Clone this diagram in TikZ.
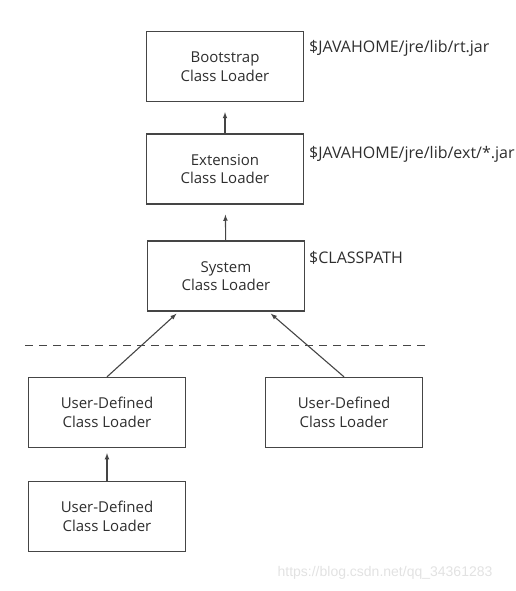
\documentclass[tikz,border=0pt]{standalone}
\usepackage{fontspec}
\setmainfont{Open Sans}
\newfontfamily\wmfont{Liberation Sans}
\usetikzlibrary{arrows}
\definecolor{boxgray}{HTML}{454545}
\definecolor{txtgray}{HTML}{2E2E2E}
\definecolor{wmgray}{HTML}{E2E2E2}
\tikzset{
  loader/.style={draw=boxgray, line width=1.3pt, minimum width=157pt, minimum height=70pt,
    inner sep=0pt, align=center, text=txtgray, font=\fontsize{15}{18.5}\selectfont},
  path/.style={anchor=west, text=txtgray, inner sep=0pt, font=\fontsize{16}{18}\selectfont},
  delegate/.style={-latex, draw=boxgray, line width=1.1pt}
}

\begin{document}
\begin{tikzpicture}[x=1pt,y=-1pt]
        \useasboundingbox (0,0) rectangle (516,591);

          % parent loaders
        \node (boot) at (225,66.5) [loader] {Bootstrap\\Class Loader};
        \node (ext) at (225,169) [loader] {Extension\\Class Loader};
        \node (sys) at (226,276) [loader] {System\\Class Loader};

        \node (rtjar) at (309,48) [path] {\$JAVAHOME/jre/lib/rt.jar};
        \node (extjar) at (309,154) [path] {\$JAVAHOME/jre/lib/ext/*.jar};
        \node (cp) at (309,258) [path] {\$CLASSPATH};

          % user side
        \node (udl) at (107,412.5) [loader] {User-Defined\\Class Loader};
        \node (udr) at (344,412.5) [loader] {User-Defined\\Class Loader};
        \node (udb) at (107,516.5) [loader] {User-Defined\\Class Loader};

        \draw[boxgray, line width=0.9pt, dash pattern=on 8pt off 6pt] (25,345) -- (426,345);

        \draw[delegate, shorten >=10pt] (ext) to (boot);
        \draw[delegate, shorten >=10pt] (sys) to (ext);
        \draw[delegate, shorten >=3pt] (udl.north) to (sys.217);
        \draw[delegate, shorten >=3pt] (udr.north) to (sys.320);
        \draw[delegate, shorten >=5pt] (udb) to (udl);

        \node (wm) at (385,573) [text=wmgray, font=\wmfont\fontsize{14}{16}\selectfont] {https://blog.csdn.net/qq\_34361283};

        \end{tikzpicture}
\end{document}
